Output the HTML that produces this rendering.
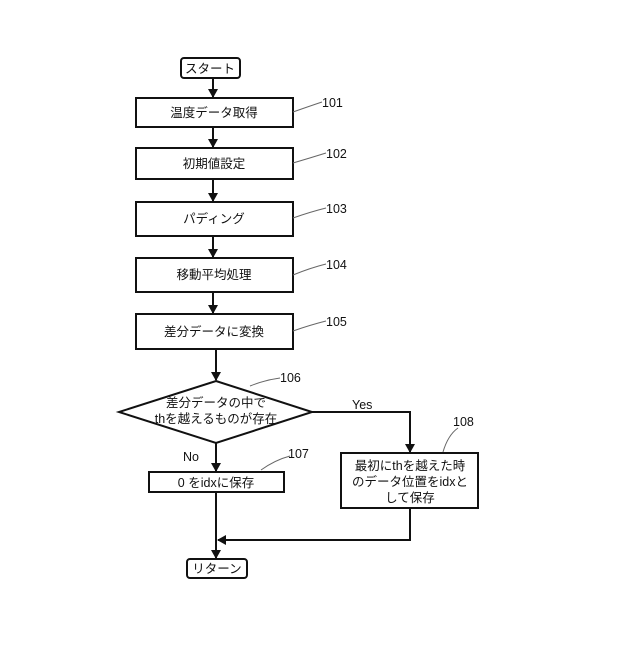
<!DOCTYPE html>
<html><head><meta charset="utf-8"><style>body{margin:0;background:#fff}</style></head><body>
<svg width="640" height="640" viewBox="0 0 640 640" xmlns="http://www.w3.org/2000/svg" font-family="Liberation Sans, Noto Sans CJK JP, sans-serif" font-size="12.5" fill="#111">
<defs><marker id="a" markerWidth="10" markerHeight="10" refX="8" refY="5" orient="auto" markerUnits="userSpaceOnUse"><path d="M0,0 L9,5 L0,10 z" fill="#111"/></marker></defs>
<g stroke="#111" stroke-width="2" fill="none">
<rect x="181" y="58" width="59" height="20" rx="3"/>
<rect x="136" y="98" width="157" height="29"/>
<rect x="136" y="148" width="157" height="31"/>
<rect x="136" y="202" width="157" height="34"/>
<rect x="136" y="258" width="157" height="34"/>
<rect x="136" y="314" width="157" height="35"/>
<polygon points="216,381 312,412 216,443 119,412"/>
<rect x="149" y="472" width="135" height="20"/>
<rect x="341" y="453" width="137" height="55"/>
<rect x="187" y="559" width="60" height="19" rx="3"/>
<line x1="213" y1="78" x2="213" y2="97" marker-end="url(#a)"/>
<line x1="213" y1="127" x2="213" y2="147" marker-end="url(#a)"/>
<line x1="213" y1="179" x2="213" y2="201" marker-end="url(#a)"/>
<line x1="213" y1="236" x2="213" y2="257" marker-end="url(#a)"/>
<line x1="213" y1="292" x2="213" y2="313" marker-end="url(#a)"/>
<line x1="216" y1="349" x2="216" y2="380" marker-end="url(#a)"/>
<line x1="216" y1="443" x2="216" y2="471" marker-end="url(#a)"/>
<line x1="216" y1="492" x2="216" y2="558" marker-end="url(#a)"/>
<polyline points="312,412 410,412 410,452" marker-end="url(#a)"/>
<polyline points="410,508 410,540 218,540" marker-end="url(#a)"/>
</g>
<g stroke="#666" stroke-width="1" fill="none">
<path d="M293,112 Q310,106 322,102"/>
<path d="M293,163 Q310,158 326,153"/>
<path d="M293,218 Q310,212 326,208"/>
<path d="M293,275 Q310,268 326,264"/>
<path d="M293,331 Q310,325 326,321"/>
<path d="M250,386 Q265,380 280,378"/>
<path d="M261,470 Q275,460 290,456"/>
<path d="M443,452 Q448,435 458,428"/>
</g>
<g text-anchor="middle">
<text x="210" y="73">スタート</text>
<text x="214" y="117">温度データ取得</text>
<text x="214" y="168">初期値設定</text>
<text x="214" y="223">パディング</text>
<text x="214" y="279">移動平均処理</text>
<text x="214" y="336">差分データに変換</text>
<text x="216" y="407">差分データの中で</text>
<text x="216" y="423">thを越えるものが存在</text>
<text x="216" y="487">0 をidxに保存</text>
<text x="410" y="470">最初にthを越えた時</text>
<text x="410" y="486">のデータ位置をidxと</text>
<text x="410" y="502">して保存</text>
<text x="217" y="573">リターン</text>
</g>
<text x="322" y="107">101</text>
<text x="326" y="158">102</text>
<text x="326" y="213">103</text>
<text x="326" y="269">104</text>
<text x="326" y="326">105</text>
<text x="280" y="382">106</text>
<text x="288" y="458">107</text>
<text x="453" y="426">108</text>
<text x="352" y="409">Yes</text>
<text x="183" y="461">No</text>
</svg>
</body></html>
